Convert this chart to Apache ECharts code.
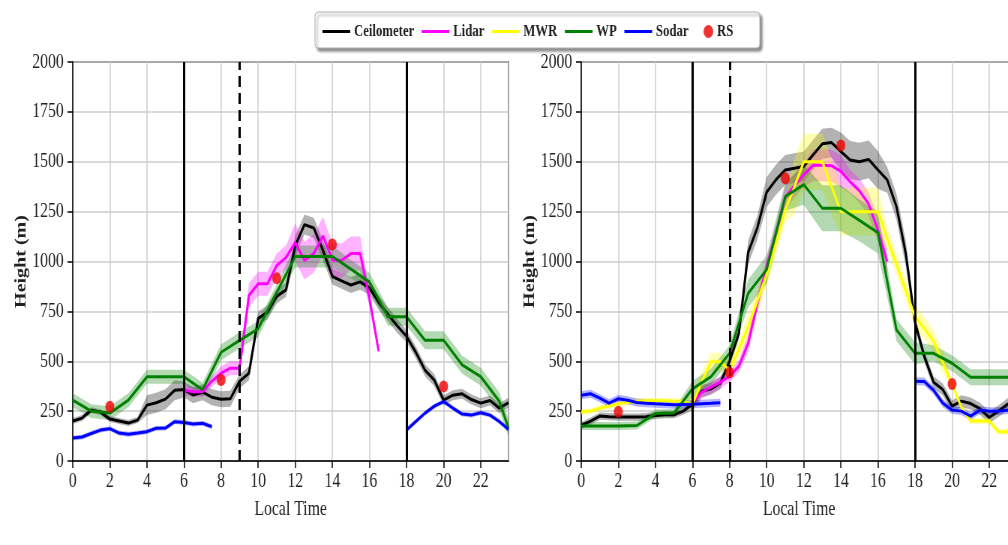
<!DOCTYPE html>
<html>
<head>
<meta charset="utf-8">
<script src="https://cdn.jsdelivr.net/npm/echarts@6/dist/echarts.min.js"></script>
<style>
    html, body { margin: 0; padding: 0; background: #fff; overflow: hidden; }
    /* the source figure is squeezed horizontally, so draw wide and squeeze */
    #chart { width: 1344px; height: 545px; transform: scaleX(0.75); transform-origin: 0 0; }
</style>
</head>
<body>
<div id="chart"></div>
<script>
// time steps (local time, hours)
const hours = [0, 0.5, 1, 1.5, 2, 2.5, 3, 3.5, 4, 4.5, 5, 5.5, 6, 6.5, 7, 7.5, 8, 8.5, 9, 9.5,
    10, 10.5, 11, 11.5, 12, 12.5, 13, 13.5, 14, 14.5, 15, 15.5, 16, 16.5, 17, 17.5, 18, 18.5, 19, 19.5,
    20, 20.5, 21, 21.5, 22, 22.5, 23, 23.5];
const wpHours = [0, 1, 2, 3, 4, 5, 6, 7, 8, 9, 10, 11, 12, 13, 14, 15, 16, 17, 18, 19, 20, 21, 22, 23, 23.5];
const rsHours = [2, 8, 11, 14, 20];

// left panel
const ceilLeft = [200, 215, 255, 245, 210, 200, 190, 205, 280, 292, 310, 355, 358, 330, 345, 320, 310, 312, 400, 440,
    715, 745, 825, 858, 1080, 1185, 1168, 1055, 925, 903, 882, 898, 868, 795, 735, 677, 625, 545, 455, 405,
    305, 330, 337, 308, 290, 303, 265, 292];
const ceilLeftSpread = [15, 15, 15, 15, 15, 15, 15, 15, 50, 50, 50, 50, 40, 40, 40, 40, 40, 40, 35, 35,
    35, 35, 35, 35, 50, 50, 50, 50, 40, 40, 40, 40, 35, 35, 35, 35, 30, 30, 30, 30,
    25, 25, 25, 25, 25, 25, 25, 25];
const lidarLeft = [null, null, null, null, null, null, null, null, null, null, null, null,
    355, 347, 347, 400, 440, 465, 465, 830, 888, 888, 980, 1020, 1095, 1005, 1040, 1128, 1008, 1005, 1040, 1040, 815, 550,
    null, null, null, null, null, null, null, null, null, null, null, null, null, null];
const lidarLeftSpread = [null, null, null, null, null, null, null, null, null, null, null, null,
    25, 25, 25, 25, 35, 35, 35, 60, 60, 60, 60, 60, 95, 95, 95, 95, 85, 85, 85, 85, 40, 15,
    null, null, null, null, null, null, null, null, null, null, null, null, null, null];
const wpLeft = [305, 250, 240, 305, 422, 422, 422, 357, 545, 605, 662, 845, 1025, 1025, 1025, 962, 898, 723, 723, 605,
    605, 482, 423, 300, 165];
const wpLeftSpread = [35, 35, 35, 35, 35, 35, 35, 35, 40, 40, 40, 40, 55, 55, 55, 45, 45, 45, 45, 45,
    45, 45, 45, 45, 45];
const sodarLeft = [115, 120, 138, 155, 162, 140, 134, 140, 147, 164, 165, 197, 193, 185, 189, 172,
    null, null, null, null, null, null, null, null, null, null, null, null, null, null, null, null, null, null, null, null,
    155, 198, 240, 275, 298, 265, 235, 230, 242, 230, 198, 158];
const rsLeft = [272, 406, 916, 1085, 373];

// right panel
const ceilRight = [178, 200, 225, 222, 220, 220, 220, 222, 228, 232, 232, 250, 285, 350, 362, 390, 500, 640, 1045, 1170,
    1348, 1410, 1459, 1467, 1477, 1534, 1590, 1596, 1551, 1509, 1500, 1512, 1459, 1409, 1275, 1041, 695, 525, 395, 358,
    275, 300, 288, 262, 218, 250, 285, 300];
const ceilRightSpread = [18, 18, 18, 18, 18, 18, 18, 18, 18, 18, 18, 18, 30, 30, 30, 30, 30, 30, 60, 60,
    75, 75, 75, 75, 75, 75, 75, 75, 95, 95, 95, 95, 95, 65, 65, 65, 30, 30, 30, 30,
    30, 30, 30, 30, 30, 30, 30, 30];
const lidarRight = [null, null, null, null, null, null, null, null, null, null, null, null,
    290, 345, 370, 395, 425, 475, 590, 790, 975, 1140, 1320, 1380, 1435, 1482, 1482, 1480, 1452, 1400, 1355, 1288, 1158, 1000,
    null, null, null, null, null, null, null, null, null, null, null, null, null, null];
const lidarRightSpread = [null, null, null, null, null, null, null, null, null, null, null, null,
    30, 30, 30, 30, 30, 30, 45, 45, 45, 45, 60, 60, 60, 80, 80, 80, 80, 60, 60, 60, 60, 60,
    null, null, null, null, null, null, null, null, null, null, null, null, null, null];
const mwrRight = [245, 250, 265, 275, 287, 295, 300, 302, 302, 302, 300, 300, 285, 400, 497, 497, 455, 560, 673, 802,
    935, 1091, 1258, 1375, 1500, 1500, 1500, 1375, 1250, 1250, 1250, 1250, 1250, 1115, 985, 855, 725, 665, 600, 495,
    385, 270, 200, 200, 200, 147, 147, 147];
const mwrRightSpread = [15, 15, 15, 15, 15, 15, 15, 15, 15, 15, 15, 15, 45, 45, 45, 45, 45, 45, 60, 60,
    60, 60, 60, 140, 140, 140, 140, 140, 120, 120, 120, 120, 120, 55, 55, 55, 55, 55, 55, 55,
    15, 15, 15, 15, 15, 15, 15, 15];
const wpRight = [175, 175, 175, 178, 238, 240, 362, 423, 540, 840, 960, 1325, 1385, 1267, 1267, 1206, 1145, 657, 540, 540,
    490, 420, 420, 420, 420];
const wpRightSpread = [20, 20, 20, 20, 20, 20, 40, 40, 40, 70, 70, 70, 100, 115, 115, 105, 105, 55, 55, 40,
    40, 40, 40, 40, 40];
const sodarRight = [330, 337, 315, 290, 312, 305, 293, 290, 287, 285, 282, 283, 285, 287, 289, 292,
    null, null, null, null, null, null, null, null, null, null, null, null, null, null, null, null, null, null, null, null,
    400, 398, 355, 290, 255, 250, 225, 255, 250, 250, 255, 258];
const rsRight = [247, 443, 1417, 1581, 386];

// vertical guide lines
const solidMarks = [6, 18];
const dashedMarkLeft = 9;
const dashedMarkRight = 8;

const FONT = 'Liberation Serif';
const colors = {
    Ceilometer: '#000000',
    Lidar: '#ff00ff',
    MWR: '#ffff00',
    WP: '#008000',
    Sodar: '#0000ff',
    RS: '#ee0000'
};
const bandColors = {
    Ceilometer: 'rgba(0,0,0,0.3)',
    Lidar: 'rgba(255,0,255,0.3)',
    MWR: 'rgba(255,255,0,0.3)',
    WP: 'rgba(0,128,0,0.3)',
    Sodar: 'rgba(0,0,255,0.3)'
};

function pairs(xs, ys) {
    return xs.map((x, i) => [x, ys[i] == null ? null : ys[i]]);
}

// shaded uncertainty band, one polygon per unbroken run of values
function band(name, xs, ys, spread, gi) {
    const sp = i => (Array.isArray(spread) ? spread[i] : spread);
    const data = xs.map((x, i) => ys[i] == null ? [x, null, null] : [x, ys[i] - sp(i), ys[i] + sp(i)]);
    return {
        type: 'custom', name: name + ' band', xAxisIndex: gi, yAxisIndex: gi,
        silent: true, z: 1, data: data, encode: {x: 0, y: [1, 2]},
        renderItem: function (params, api) {
            const i = params.dataIndex;
            if (data[i][1] == null || (i > 0 && data[i - 1][1] != null)) return null;
            const lower = [], upper = [];
            for (let j = i; j < data.length && data[j][1] != null; j++) {
                lower.push(api.coord([data[j][0], data[j][1]]));
                upper.push(api.coord([data[j][0], data[j][2]]));
            }
            return {
                type: 'polygon',
                shape: {points: lower.concat(upper.reverse())},
                style: {fill: bandColors[name], stroke: null}
            };
        }
    };
}

function line(name, xs, ys, gi, extra) {
    return Object.assign({
        type: 'line', name: name, xAxisIndex: gi, yAxisIndex: gi,
        data: pairs(xs, ys), symbol: 'none', silent: true, z: 3,
        lineStyle: {color: colors[name], width: 3},
        itemStyle: {color: colors[name]}
    }, extra || {});
}

function guides(dashed) {
    return {
        silent: true, symbol: ['none', 'none'], label: {show: false}, animation: false,
        lineStyle: {color: '#000', width: 3, type: 'solid'},
        emphasis: {disabled: true},
        data: solidMarks.map(v => ({xAxis: v}))
            .concat([{xAxis: dashed, lineStyle: {type: [11, 6], color: '#000', width: 3}}])
    };
}

function rs(ys, gi) {
    return {
        type: 'scatter', name: 'RS', xAxisIndex: gi, yAxisIndex: gi,
        data: pairs(rsHours, ys), symbolSize: 12, z: 5, silent: true,
        itemStyle: {color: colors.RS}
    };
}

const gridLeft = [97, 775];
const grids = gridLeft.map(l => ({
    left: l, top: 62, width: 581, height: 399,
    show: true, borderColor: '#000', borderWidth: 1.5,
    containLabel: false, outerBoundsMode: 'none'
}));

const xAxes = [0, 1].map(gi => ({
    type: 'value', gridIndex: gi, min: 0, max: 23.5, interval: 2,
    name: 'Local Time', nameLocation: 'middle', nameGap: 38,
    nameTextStyle: {fontFamily: FONT, fontSize: 21, color: '#222'},
    axisLine: {show: true, onZero: false, lineStyle: {color: '#000', width: 1.5}},
    axisTick: {show: true, inside: false, length: 7, lineStyle: {color: '#000', width: 1.5}},
    axisLabel: {fontFamily: FONT, fontSize: 21, color: '#222', margin: 10, showMaxLabel: false,
        formatter: v => String(v)},
    splitLine: {show: true, lineStyle: {color: '#cccccc', width: 1.5}}
}));

const yAxes = [0, 1].map(gi => ({
    type: 'value', gridIndex: gi, min: 0, max: 2000, interval: 250,
    name: 'Height (m)', nameLocation: 'middle', nameGap: 58, nameRotate: 90,
    nameTextStyle: {fontFamily: FONT, fontSize: 20, fontWeight: 'bold', color: '#222'},
    axisLine: {show: true, lineStyle: {color: '#000', width: 1.5}},
    axisTick: {show: true, inside: false, length: 7, lineStyle: {color: '#000', width: 1.5}},
    axisLabel: {fontFamily: FONT, fontSize: 21, color: '#222', margin: 12, formatter: v => String(v)},
    splitLine: {show: true, lineStyle: {color: '#cccccc', width: 1.5}}
}));

const series = [].concat(
    band('Ceilometer', hours, ceilLeft, ceilLeftSpread, 0),
    band('Lidar', hours, lidarLeft, lidarLeftSpread, 0),
    band('WP', wpHours, wpLeft, wpLeftSpread, 0),
    band('Sodar', hours, sodarLeft, 12, 0),
    band('Ceilometer', hours, ceilRight, ceilRightSpread, 1),
    band('Lidar', hours, lidarRight, lidarRightSpread, 1),
    band('MWR', hours, mwrRight, mwrRightSpread, 1),
    band('WP', wpHours, wpRight, wpRightSpread, 1),
    band('Sodar', hours, sodarRight, 20, 1),
    [
        line('Ceilometer', hours, ceilLeft, 0, {markLine: guides(dashedMarkLeft)}),
        line('Lidar', hours, lidarLeft, 0),
        line('WP', wpHours, wpLeft, 0),
        line('Sodar', hours, sodarLeft, 0),
        rs(rsLeft, 0),
        line('Ceilometer', hours, ceilRight, 1, {markLine: guides(dashedMarkRight)}),
        line('Lidar', hours, lidarRight, 1),
        line('MWR', hours, mwrRight, 1),
        line('WP', wpHours, wpRight, 1),
        line('Sodar', hours, sodarRight, 1),
        rs(rsRight, 1)
    ]
);

const legendText = {fontFamily: FONT, fontSize: 17, fontWeight: 'bold', color: '#222'};

const chart = echarts.init(document.getElementById('chart'), null, {renderer: 'canvas'});
chart.setOption({
    animation: false,
    backgroundColor: '#fff',
    graphic: [{
        type: 'rect', x: 420, y: 12, z: 0,
        shape: {width: 593, height: 36, r: 4},
        style: {
            fill: '#fff', stroke: '#b0b0b0', lineWidth: 1,
            shadowBlur: 3, shadowOffsetX: 3, shadowOffsetY: 3, shadowColor: 'rgba(0,0,0,0.45)'
        }
    }],
    legend: [{
        left: 425, top: 18, icon: 'rect', itemWidth: 37, itemHeight: 3, itemGap: 10,
        selectedMode: false, textStyle: legendText,
        data: ['Ceilometer', 'Lidar', 'MWR', 'WP', 'Sodar']
    }, {
        left: 933, top: 18, icon: 'circle', itemWidth: 13, itemHeight: 13, itemGap: 10,
        selectedMode: false, textStyle: legendText,
        data: ['RS']
    }],
    grid: grids,
    xAxis: xAxes,
    yAxis: yAxes,
    series: series
});
</script>
</body>
</html>
